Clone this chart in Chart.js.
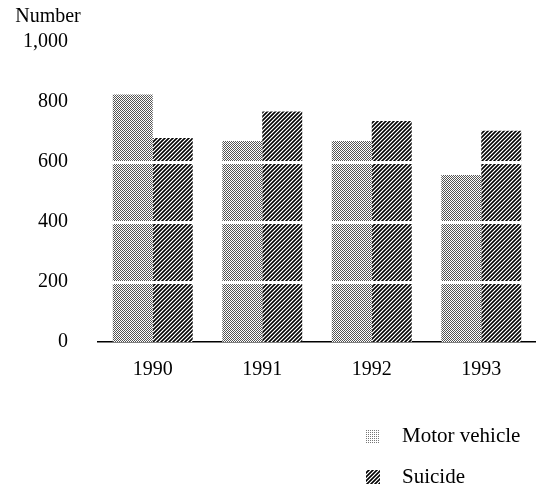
<!DOCTYPE html>
<html>
<head>
<meta charset="utf-8">
<title>Motor vehicle and suicide deaths</title>
<script src="https://cdn.jsdelivr.net/npm/chart.js@4/dist/chart.umd.min.js"></script>
<style>
    html, body { margin: 0; padding: 0; background: #fff; }
    #wrap { width: 536px; height: 492px; position: relative; }
</style>
</head>
<body>
<div id="wrap"><canvas id="deathsChart"></canvas></div>
<script>
// Chart data
const years = ['1990', '1991', '1992', '1993'];
const motorVehicle = [825, 670, 670, 557];
const suicide = [680, 768, 737, 704];
const yTicks = [0, 200, 400, 600, 800, 1000];
const whiteRules = [200, 400, 600];
const yTitle = 'Number';

const serif = "'Liberation Serif', 'DejaVu Serif', serif";

// Build a stipple pattern from a small tile
const makePattern = (size, paint) => {
    const c = document.createElement('canvas');
    c.width = size;
    c.height = size;
    const g = c.getContext('2d');
    g.fillStyle = '#fff';
    g.fillRect(0, 0, size, size);
    for (let y = 0; y < size; y++) {
        for (let x = 0; x < size; x++) {
            const col = paint(x, y);
            if (col) {
                g.fillStyle = col;
                g.fillRect(x, y, 1, 1);
            }
        }
    }
    return g.createPattern(c, 'repeat');
};

// light dotted grey
const lightDots = (x, y) => ((x + y) % 2 === 0 ? '#555' : ((x * 3 + y) % 4 === 0 ? '#e0e0e0' : null));
// dark dots with diagonal white streaks
const darkHatch = (x, y) => ((x + y) % 4 === 0 ? null : ((x - y + 8) % 2 === 0 ? '#000' : '#555'));
// sparse dots for the legend key
const sparseDots = (x, y) => ((x % 2 === 0 && y % 2 === 0) ? '#777' : null);

const mvFill = makePattern(4, lightDots);
const suFill = makePattern(4, darkHatch);
const mvKey = makePattern(4, sparseDots);

// White rules that cut across the bars
const rulesPlugin = {
    id: 'whiteRules',
    afterDatasetsDraw(chart) {
        const { ctx, chartArea, scales } = chart;
        ctx.save();
        ctx.strokeStyle = '#fff';
        ctx.lineWidth = 3;
        whiteRules.forEach(v => {
            const y = Math.round(scales.y.getPixelForValue(v)) + 0.5;
            ctx.beginPath();
            ctx.moveTo(chartArea.left, y);
            ctx.lineTo(chartArea.right, y);
            ctx.stroke();
        });
        ctx.restore();
    }
};

// Axis caption and stacked legend at the bottom right
const annotatePlugin = {
    id: 'annotate',
    afterDraw(chart) {
        const { ctx } = chart;
        ctx.save();
        ctx.fillStyle = '#000';
        ctx.font = '20px ' + serif;
        ctx.textAlign = 'center';
        ctx.textBaseline = 'middle';
        ctx.fillText(yTitle, 48, 17);

        ctx.textAlign = 'left';
        ctx.font = '21px ' + serif;
        chart.data.datasets.forEach((ds, i) => {
            const cy = 436 + i * 41;
            ctx.fillStyle = i === 0 ? mvKey : ds.backgroundColor;
            ctx.fillRect(366, cy - 7, 14, 14);
            ctx.fillStyle = '#000';
            ctx.fillText(ds.label, 402, cy);
        });
        ctx.restore();
    }
};

const ctx = document.getElementById('deathsChart').getContext('2d');
window.deathsChart = new Chart(ctx, {
    type: 'bar',
    data: {
        labels: years,
        datasets: [
            {
                label: 'Motor vehicle',
                data: motorVehicle,
                backgroundColor: mvFill,
                borderWidth: 0,
                categoryPercentage: 0.73,
                barPercentage: 1.0
            },
            {
                label: 'Suicide',
                data: suicide,
                backgroundColor: suFill,
                borderWidth: 0,
                categoryPercentage: 0.73,
                barPercentage: 1.0
            }
        ]
    },
    options: {
        responsive: true,
        maintainAspectRatio: false,
        animation: false,
        layout: { padding: { top: 42, right: 0, bottom: 110, left: 0 } },
        plugins: {
            legend: { display: false },
            tooltip: { enabled: false }
        },
        scales: {
            x: {
                grid: { display: false, drawTicks: false },
                border: { display: true, color: '#000', width: 1.5 },
                ticks: {
                    color: '#000',
                    font: { family: serif, size: 20 },
                    padding: 16
                },
                afterFit: (scale) => { scale.height = 40; }
            },
            y: {
                min: 0,
                max: 1000,
                afterBuildTicks: (scale) => { scale.ticks = yTicks.map(v => ({ value: v })); },
                grid: { display: false, drawTicks: false },
                border: { display: false },
                ticks: {
                    color: '#000',
                    font: { family: serif, size: 20 },
                    padding: 30,
                    callback: (v) => v.toLocaleString('en-US')
                },
                afterFit: (scale) => { scale.width = 98; }
            }
        }
    },
    plugins: [rulesPlugin, annotatePlugin]
});
</script>
</body>
</html>
